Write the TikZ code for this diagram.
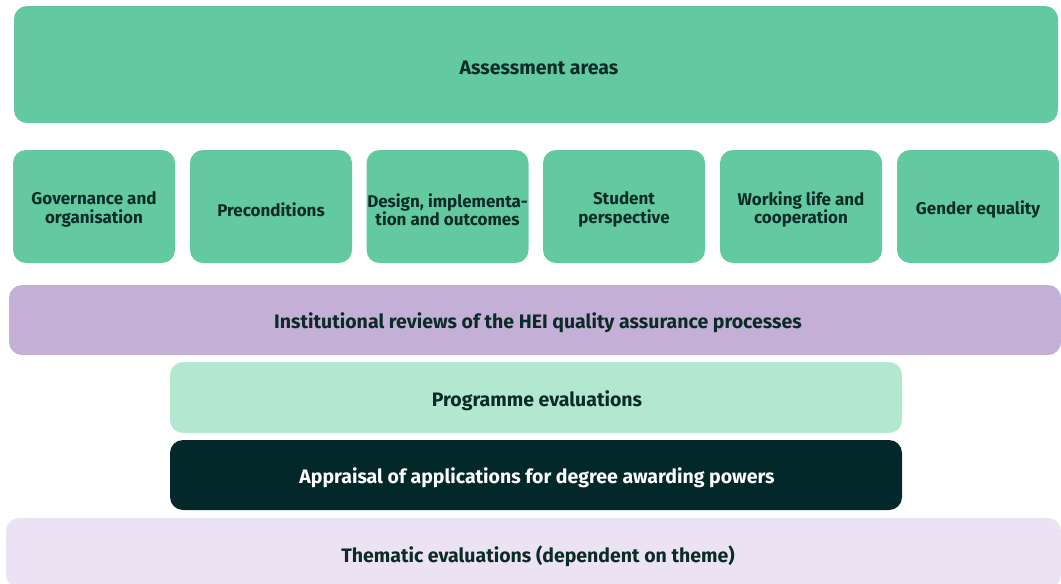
\documentclass[tikz,border=0pt]{standalone}
\usepackage{fontspec}
\setmainfont{Fira Sans}
\definecolor{gmain}{HTML}{62C9A1}
\definecolor{gtext}{HTML}{0B2B26}
\definecolor{purp}{HTML}{C4B0D6}
\definecolor{lgreen}{HTML}{B3E8D0}
\definecolor{dgreen}{HTML}{03282A}
\definecolor{lpurp}{HTML}{EBE2F4}
\tikzset{
  boxbase/.style={rounded corners=13pt, inner sep=0pt, align=center, font=\fontsize{19.5}{22}\selectfont\bfseries, text=gtext},
  area/.style={boxbase, fill=gmain, minimum width=162pt, minimum height=113pt},
  areatxt/.style={inner sep=0pt, align=center, text=gtext, font=\fontsize{17}{18.5}\selectfont\bfseries},
}
\begin{document}
\begin{tikzpicture}[x=1pt,y=-1pt]
\useasboundingbox (0,0) rectangle (1061,584);
\clip (0,0) rectangle (1061,584);
\node[boxbase, fill=gmain, minimum width=1044pt, minimum height=117pt] (top) at (536,64.5) {};
\node[boxbase] (toptxt) at (539,67.5) {Assessment areas};
\node[area] (a1) at (94,206.5) {};
\node[area] (a2) at (271,206.5) {};
\node[area] (a3) at (447.5,206.5) {};
\node[area] (a4) at (624,206.5) {};
\node[area] (a5) at (801,206.5) {};
\node[area] (a6) at (978,206.5) {};
\node[areatxt] (t1) at (94,209.5) {Governance and\\organisation};
\node[areatxt] (t2) at (271,209.5) {Preconditions};
\node[areatxt] (t3) at (447.5,209.5) {Design, implementa-\\tion and outcomes};
\node[areatxt] (t4) at (624,209.5) {Student\\perspective};
\node[areatxt] (t5) at (801,209.5) {Working life and\\cooperation};
\node[areatxt] (t6) at (978,209.5) {Gender equality};
\node[boxbase, fill=purp, minimum width=1052pt, minimum height=70pt] (inst) at (535,320) {};
\node[boxbase] (insttxt) at (538,323) {Institutional reviews of the HEI quality assurance processes};
\node[boxbase, fill=lgreen, minimum width=732pt, minimum height=71pt] (prog) at (536,397.5) {};
\node[boxbase] (progtxt) at (537,400.5) {Programme evaluations};
\node[boxbase, fill=dgreen, minimum width=732pt, minimum height=70pt] (appr) at (536,475) {};
\node[boxbase, text=white] (apprtxt) at (537,478) {Appraisal of applications for degree awarding powers};
\node[boxbase, fill=lpurp, minimum width=1055pt, minimum height=70pt] (them) at (533.5,553) {};
\node[boxbase] (themtxt) at (538,556) {Thematic evaluations (dependent on theme)};
\end{tikzpicture}
\end{document}
